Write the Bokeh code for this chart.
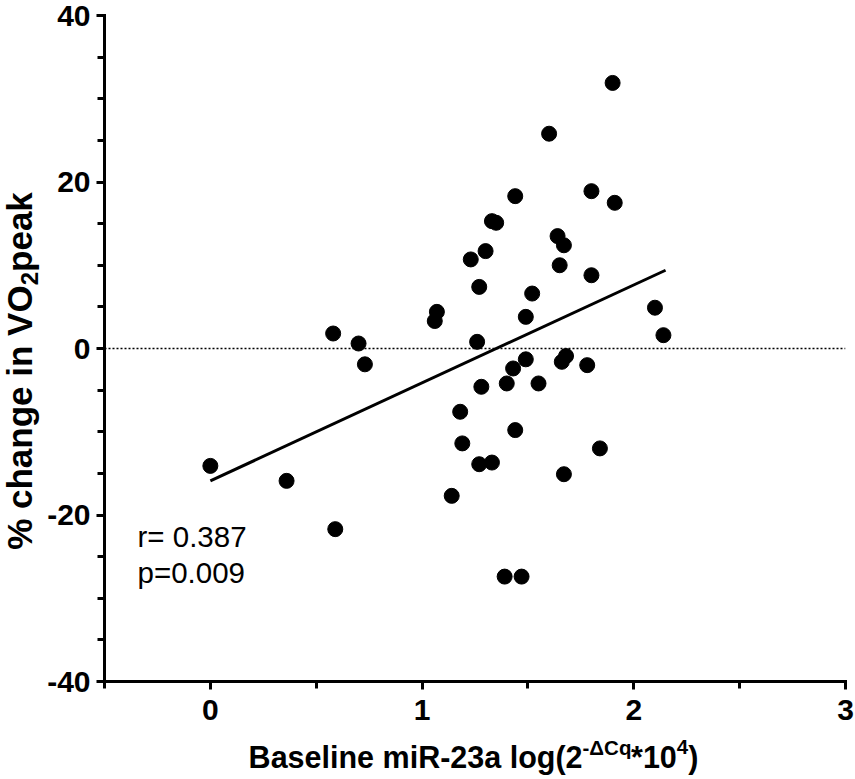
import math
from bokeh.plotting import figure
from bokeh.models import Range1d, FixedTicker, Label, Span
from bokeh.layouts import row, column
from bokeh.embed import file_html
from bokeh.resources import INLINE

# ---- data ----
x_vals = [0.00, 0.36, 0.59, 0.58, 0.70, 0.73, 1.07, 1.06, 1.90, 1.60,
          1.44, 1.80, 1.91, 1.33, 1.35, 1.64, 1.67, 1.30, 1.23, 1.65,
          1.80, 1.27, 1.52, 2.10, 1.49, 2.14, 1.26, 1.49, 1.43, 1.68,
          1.66, 1.78, 1.28, 1.40, 1.55, 1.18, 1.19, 1.44, 1.84, 1.27,
          1.33, 1.67, 1.14, 1.39, 1.47]
y_vals = [-14.1, -15.9, -21.7, 1.8, 0.6, -1.9, 4.4, 3.3, 31.9, 25.8,
          18.3, 18.9, 17.5, 15.3, 15.1, 13.5, 12.4, 11.7, 10.7, 10.0,
          8.8, 7.4, 6.6, 4.9, 3.8, 1.6, 0.8, -1.3, -2.4, -0.9,
          -1.6, -2.0, -4.6, -4.2, -4.2, -7.6, -11.4, -9.8, -12.0, -13.9,
          -13.7, -15.1, -17.7, -27.4, -27.4]
fit_x = [0.0, 2.15]
fit_y = [-15.9, 9.4]

x_ticks = [0, 1, 2, 3]
x_minor = [-0.5, 0.5, 1.5, 2.5]
x_tick_labels = ["0", "1", "2", "3"]
y_ticks = [-40, -20, 0, 20, 40]
y_minor = [-35, -30, -25, -15, -10, -5, 5, 10, 15, 25, 30, 35]
y_tick_labels = ["-40", "-20", "0", "20", "40"]

x_label_parts = ["Baseline miR-23a log(2", "-\u0394Cq", "*10", "4", ")"]
y_label_parts = ["% change in VO", "2", "peak"]
stat_texts = ["r= 0.387", "p=0.009"]

FONT = "Liberation Sans"
MID = 0.3465   # distance (in em) from text-box middle to alphabetic baseline

# ---- layout geometry (pixels) ----
TOTAL_W, TOTAL_H = 855, 779
YL_W = 44                    # strip for the y-axis title
XL_H = 44                    # strip for the x-axis title
MW, MH = TOTAL_W - YL_W, TOTAL_H - XL_H
FL, FR, FT = 101 - YL_W, 10, 15
FB = MH - 681

# ---- main plot ----
p = figure(width=MW, height=MH, x_range=Range1d(-0.5, 3), y_range=Range1d(-40, 40),
           output_backend="svg", toolbar_location=None, title=None,
           min_border_left=FL, min_border_right=FR, min_border_top=FT, min_border_bottom=FB)
p.outline_line_color = None
p.grid.visible = False
p.background_fill_color = "white"
p.border_fill_color = "white"

p.xaxis.ticker = FixedTicker(ticks=x_ticks, minor_ticks=x_minor)
p.yaxis.ticker = FixedTicker(ticks=y_ticks, minor_ticks=y_minor)
p.xaxis.major_label_overrides = {t: s for t, s in zip(x_ticks, x_tick_labels)}
p.yaxis.major_label_overrides = {t: s for t, s in zip(y_ticks, y_tick_labels)}

for ax in (p.xaxis[0], p.yaxis[0]):
    ax.axis_line_width = 3
    ax.axis_line_color = "black"
    ax.axis_line_cap = "square"
    ax.major_tick_line_width = 3
    ax.minor_tick_line_width = 3
    ax.major_tick_line_color = "black"
    ax.minor_tick_line_color = "black"
    ax.major_tick_in = 0
    ax.minor_tick_in = 0
    ax.major_tick_out = 8
    ax.minor_tick_out = 7
    ax.major_label_text_font = FONT
    ax.major_label_text_font_style = "bold"
    ax.major_label_text_font_size = "30px"
    ax.major_label_text_color = "black"
    ax.axis_label = None
p.xaxis.major_label_standoff = 10
p.yaxis.major_label_standoff = 6

p.add_layout(Span(location=0, dimension="width", line_color="black",
                  line_width=1.5, line_dash="2 2"))
p.line(fit_x, fit_y, line_width=3, line_color="black")
p.scatter(x_vals, y_vals, size=15, fill_color="black", line_color="black")

STAT_SIZE = 29.5
for t, base in zip(stat_texts, [135, 99]):
    p.add_layout(Label(x=-0.5, y=-40, x_offset=33, y_offset=base + MID * STAT_SIZE, text=t,
                       text_font=FONT, text_font_size=f"{STAT_SIZE}px", text_color="black",
                       text_align="left", text_baseline="middle"))

# ---- axis-title strips (text with super/subscripts) ----
AW = {"B": 722, "a": 556, "s": 556, "e": 556, "l": 278, "i": 278, "n": 611, " ": 278,
      "m": 889, "R": 722, "-": 333, "2": 556, "3": 556, "o": 611, "g": 611, "(": 333,
      ")": 333, "*": 389, "1": 556, "0": 556, "4": 556, "C": 722, "q": 611, "\u0394": 700,
      "%": 889, "c": 556, "h": 611, "V": 667, "O": 778, "p": 611, "k": 556}


def tw(s, size):
    return sum(AW.get(c, 556) for c in s) * size / 1000.0


def strip(w, h):
    f = figure(frame_width=w, frame_height=h, x_range=Range1d(0, w), y_range=Range1d(0, h),
               output_backend="svg", toolbar_location=None, title=None,
               x_axis_location=None, y_axis_location=None,
               min_border_left=0, min_border_right=0, min_border_top=0, min_border_bottom=0)
    f.outline_line_color = None
    f.grid.visible = False
    f.background_fill_color = "white"
    f.border_fill_color = "white"
    return f


# y title strip (left of main plot); coordinates = page pixels, y measured up from MH
yl = strip(YL_W, MH)
MAIN_Y, SUB_Y = 35, 24
y_sizes = [MAIN_Y, SUB_Y, MAIN_Y]
y_base = [31, 37, 31]
total_y = sum(tw(t, s) for t, s in zip(y_label_parts, y_sizes))
yo = (MH - 355.5) - total_y / 2
for t, s, b in zip(y_label_parts, y_sizes, y_base):
    yl.add_layout(Label(x=b - MID * s, y=yo, text=t, angle=math.pi / 2,
                        text_font=FONT, text_font_style="bold",
                        text_font_size=f"{s}px", text_color="black",
                        text_align="left", text_baseline="middle"))
    yo += tw(t, s)

# x title strip (full width, below); x = page pixels
xl = strip(TOTAL_W, XL_H)
MAIN_X, SUP_X = 30.5, 20.5
x_sizes = [MAIN_X, SUP_X, MAIN_X, SUP_X, MAIN_X]
x_rise = [0, 13, 0, 13, 0]
total = sum(tw(t, s) for t, s in zip(x_label_parts, x_sizes))
xo = (101 + 845) / 2 - total / 2
base = TOTAL_H - 767
for t, s, r in zip(x_label_parts, x_sizes, x_rise):
    xl.add_layout(Label(x=xo, y=base + r + MID * s, text=t,
                        text_font=FONT, text_font_style="bold", text_font_size=f"{s}px",
                        text_color="black", text_align="left", text_baseline="middle"))
    xo += tw(t, s)

layout = column(row(yl, p, spacing=0), xl, spacing=0)
open("out.html", "w").write(file_html(layout, INLINE))
